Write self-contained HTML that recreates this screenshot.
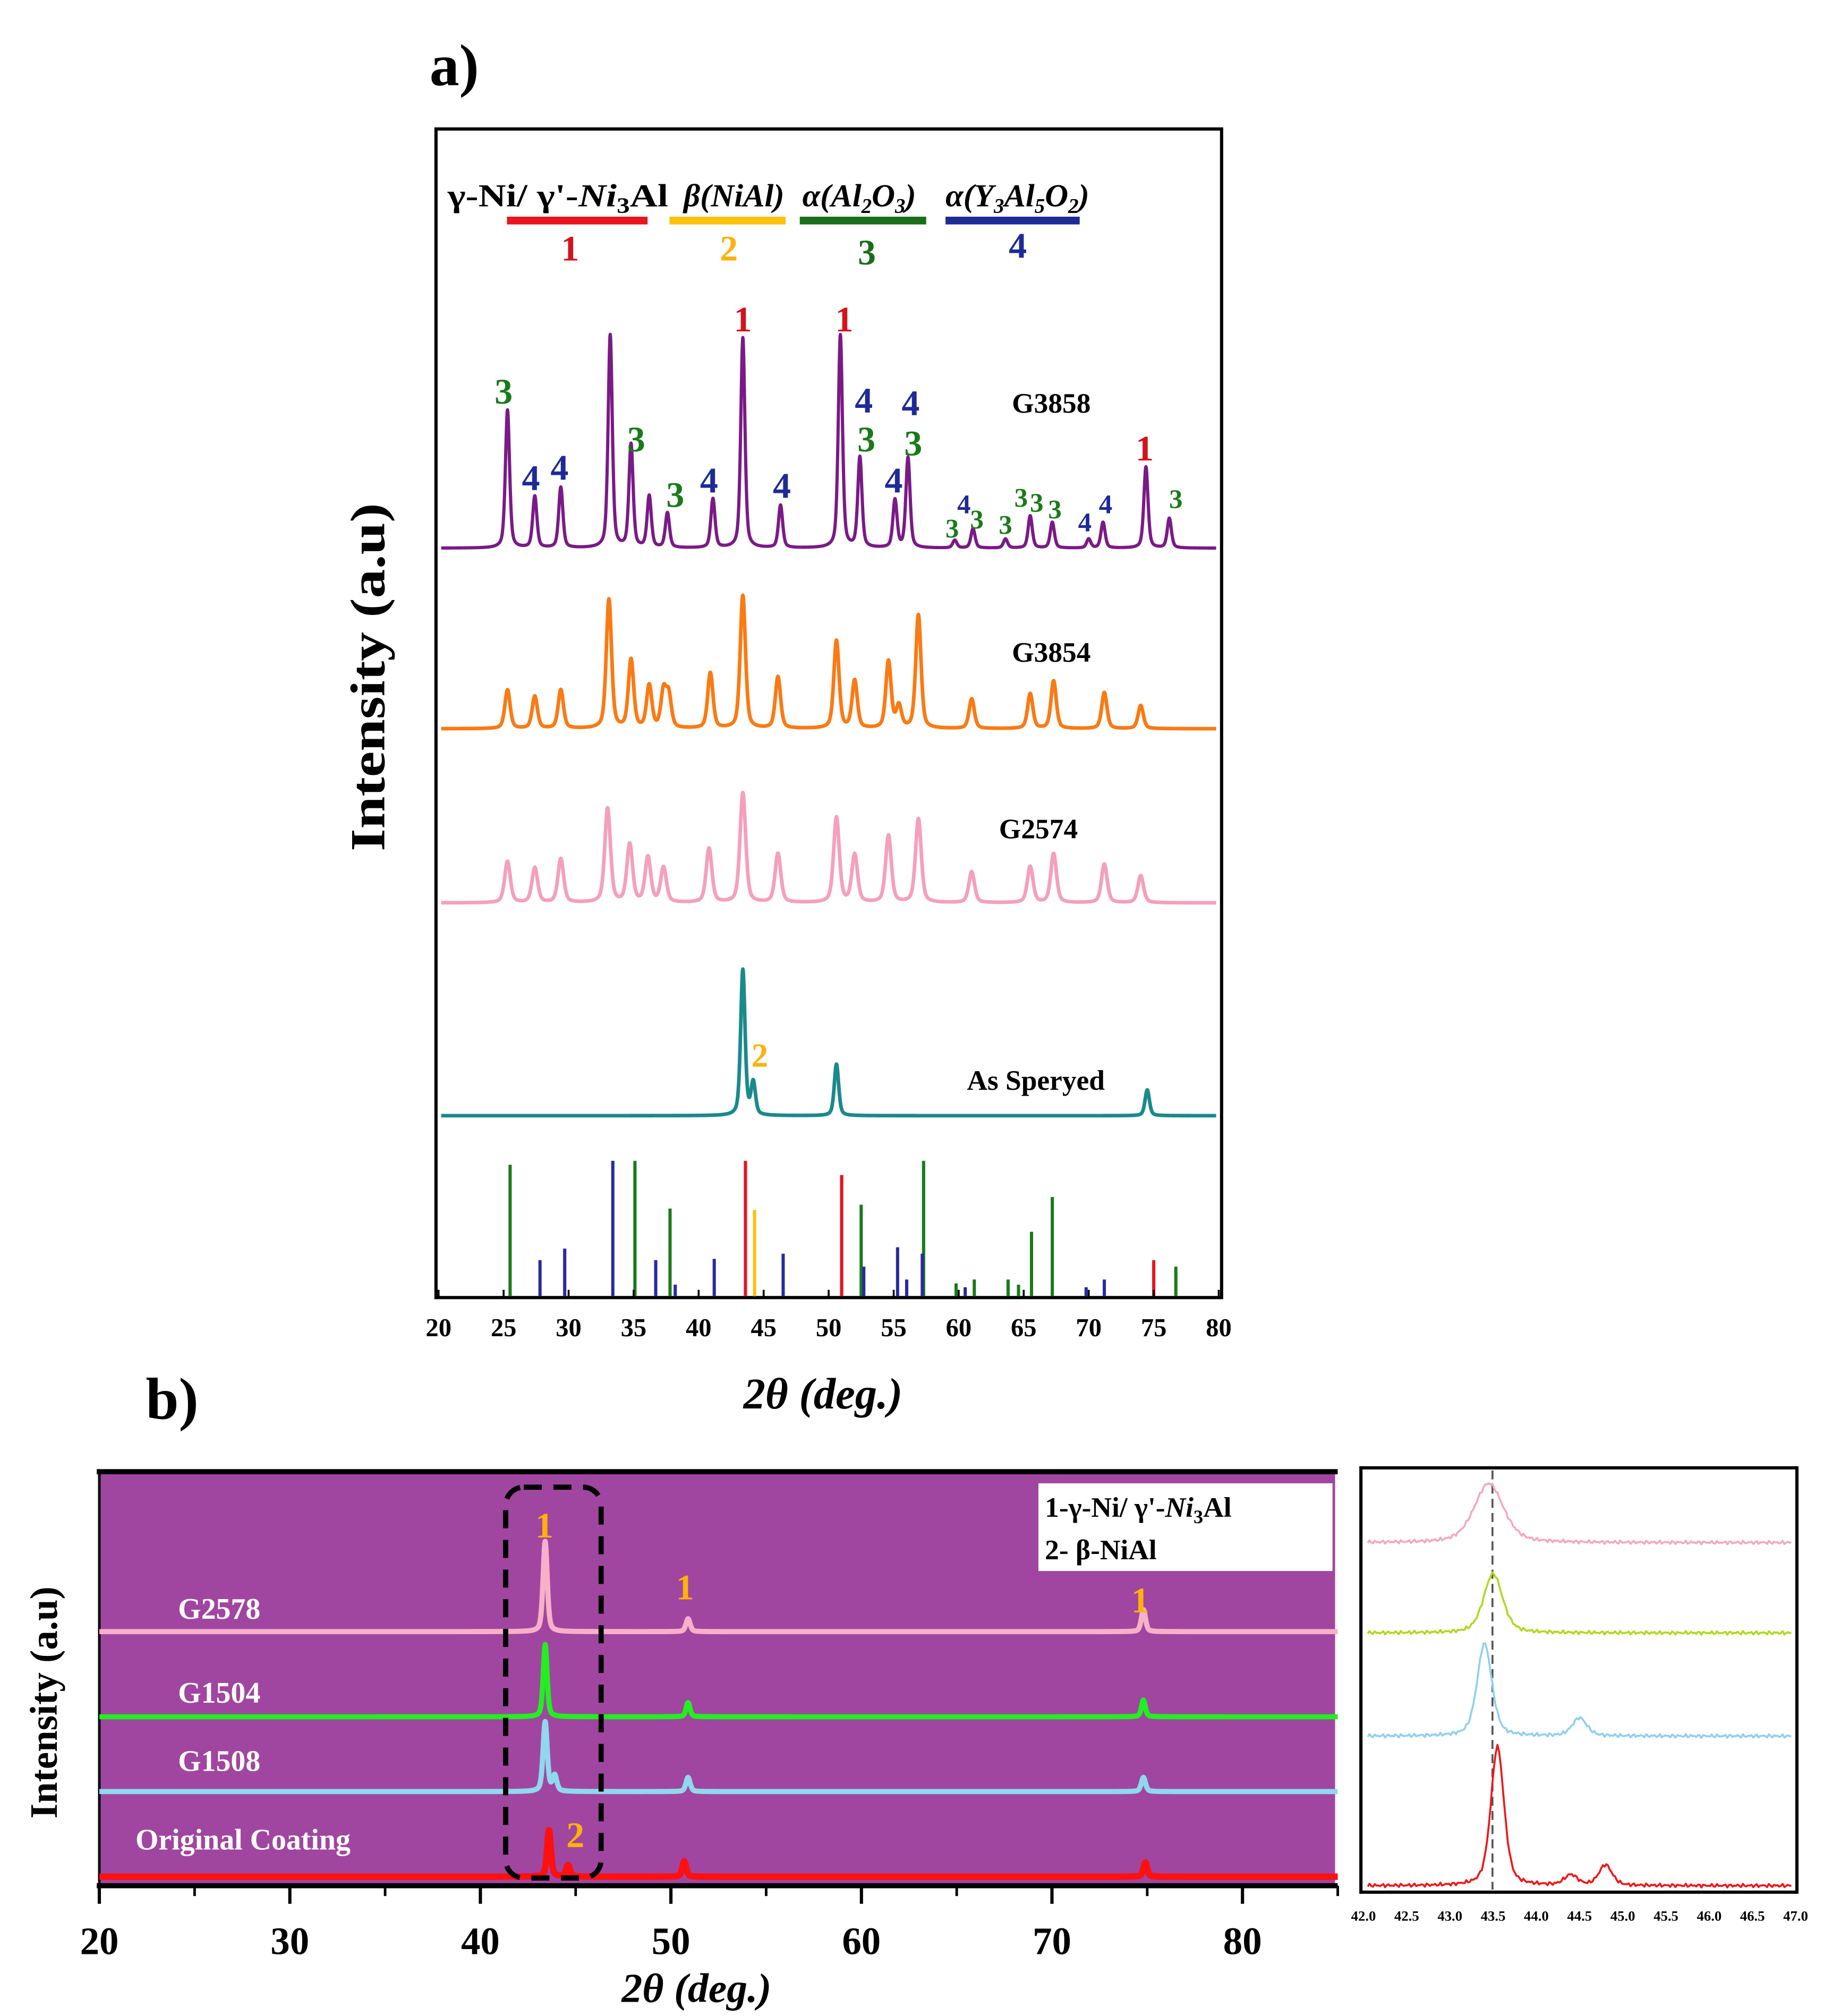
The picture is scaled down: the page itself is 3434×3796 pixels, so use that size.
<!DOCTYPE html>
<html><head><meta charset="utf-8"><style>
html,body{margin:0;padding:0;background:#fff}
svg{display:block}
text{font-family:"Liberation Serif",serif;font-weight:bold}
</style></head><body>
<svg id="fig" width="3434" height="3796" viewBox="0 0 1414 1563" preserveAspectRatio="none" xmlns="http://www.w3.org/2000/svg">
<g id="pa">
<text x="333" y="66" font-size="46">a)</text>
<rect x="338" y="100" width="609" height="906" fill="#fff" stroke="#000" stroke-width="2.5"/>
<g>
<text x="347" y="160" font-size="25" textLength="171" lengthAdjust="spacingAndGlyphs">γ-Ni/ γ'-<tspan font-style="italic">Ni</tspan><tspan font-size="17" dy="5">3</tspan><tspan dy="-5">Al</tspan></text>
<text x="530" y="160" font-size="25" font-style="italic" font-weight="normal" textLength="78" lengthAdjust="spacingAndGlyphs">β(NiAl)</text>
<text x="622" y="160" font-size="25" font-style="italic" font-weight="normal">α(Al<tspan font-size="16" dy="5">2</tspan><tspan dy="-5">O</tspan><tspan font-size="16" dy="5">3</tspan><tspan dy="-5">)</tspan></text>
<text x="733" y="160" font-size="25" font-style="italic" font-weight="normal">α(Y<tspan font-size="16" dy="5">3</tspan><tspan dy="-5">Al</tspan><tspan font-size="16" dy="5">5</tspan><tspan dy="-5">O</tspan><tspan font-size="16" dy="5">2</tspan><tspan dy="-5">)</tspan></text>
<rect x="393" y="168" width="109" height="6" fill="#e8141e"/>
<rect x="519" y="168" width="90" height="6" fill="#fcc10a"/>
<rect x="620" y="168" width="98" height="6" fill="#1a6e1a"/>
<rect x="733" y="168" width="104" height="6" fill="#1e2a96"/>
<text x="442" y="202" font-size="28" fill="#d0141e" text-anchor="middle">1</text>
<text x="565" y="202" font-size="28" fill="#fcb20a" text-anchor="middle">2</text>
<text x="672" y="205" font-size="28" fill="#1a6e1a" text-anchor="middle">3</text>
<text x="789" y="200" font-size="28" fill="#1e2a96" text-anchor="middle">4</text>
</g>
<g id="aTraces"></g>
<g id="aSticks"></g>
<g id="aLabels"></g>
<g id="aAxis"></g>
<text x="815" y="320" font-size="22" text-anchor="middle">G3858</text>
<text x="815" y="513" font-size="22" text-anchor="middle">G3854</text>
<text x="805" y="650" font-size="22" text-anchor="middle">G2574</text>
<text x="803" y="845" font-size="22" text-anchor="middle">As Speryed</text>
<text x="589" y="827" font-size="26" fill="#fcb20a" text-anchor="middle">2</text>
<text x="638" y="1092" font-size="34" text-anchor="middle"><tspan font-style="italic">2θ (deg.)</tspan></text>
<text transform="translate(298,525) rotate(-90)" font-size="38" text-anchor="middle" textLength="270" lengthAdjust="spacingAndGlyphs">Intensity (a.u)</text>
</g>
<g id="pb">
<text x="113" y="1100" font-size="46">b)</text>
<rect x="77" y="1140" width="958" height="322" fill="#a046a0"/>
<line x1="75" y1="1141" x2="1037" y2="1141" stroke="#000" stroke-width="4"/>
<line x1="75" y1="1462" x2="1037" y2="1462" stroke="#000" stroke-width="4"/>
<line x1="77" y1="1140" x2="77" y2="1462" stroke="#000" stroke-width="2"/>
<g id="bTraces"></g>
<rect x="392" y="1153" width="74" height="303" rx="14" fill="none" stroke="#000" stroke-width="4" stroke-dasharray="14,9"/>
<rect x="805" y="1150" width="228" height="68" fill="#fff"/>
<text x="810" y="1176" font-size="22">1-γ-Ni/ γ'-<tspan font-style="italic">Ni</tspan><tspan font-size="15" dy="5">3</tspan><tspan dy="-5">Al</tspan></text>
<text x="810" y="1209" font-size="22">2-  β-NiAl</text>
<text x="138" y="1255" font-size="23" fill="#fff">G2578</text>
<text x="138" y="1320" font-size="23" fill="#fff">G1504</text>
<text x="138" y="1373" font-size="23" fill="#fff">G1508</text>
<text x="105" y="1434" font-size="23" fill="#fff">Original Coating</text>
<text x="422" y="1192" font-size="28" fill="#fcb20a" text-anchor="middle">1</text>
<text x="531" y="1240" font-size="28" fill="#fcb20a" text-anchor="middle">1</text>
<text x="884" y="1250" font-size="28" fill="#fcb20a" text-anchor="middle">1</text>
<text x="446" y="1432" font-size="28" fill="#fcb20a" text-anchor="middle">2</text>
<g id="bAxis"></g>
<text x="540" y="1552" font-size="32" text-anchor="middle" font-style="italic">2θ (deg.)</text>
<text transform="translate(44,1320) rotate(-90)" font-size="30" text-anchor="middle">Intensity (a.u)</text>
<rect x="1055" y="1138" width="338" height="329" fill="#fff" stroke="#000" stroke-width="2.5"/>
<line x1="1157" y1="1140" x2="1157" y2="1465" stroke="#555" stroke-width="1.5" stroke-dasharray="7,4"/>
<g id="cTraces"></g>
<g id="cAxis"></g>
</g>
</svg>
<script>
const NS="http://www.w3.org/2000/svg";
function mk(tag,attrs,parent){const e=document.createElementNS(NS,tag);for(const k in attrs)e.setAttribute(k,attrs[k]);parent.appendChild(e);return e;}
// ---------- Panel a data ----------
const g3858Pos=[25.3,27.4,29.4,33.2,34.8,36.2,37.6,41.1,43.4,46.3,50.9,52.4,55.1,56.1,59.7,61.1,63.6,65.5,67.2,70.0,71.1,74.4,76.2];
const g3858Int=[107,40,47,165,80,40,27,38,163,33,165,70,37,70,6,15,7,25,20,7,20,63,23];
const g3854Pos=[25.3,27.4,29.4,33.1,34.8,36.2,37.3,37.7,40.9,43.4,46.1,50.6,52.0,54.6,55.4,56.9,61.0,65.5,67.3,71.2,74.0];
const g3854Int=[30,25,30,100,53,33,28,25,43,103,40,68,37,52,17,88,23,27,37,28,18];
const g2574Pos=[25.3,27.4,29.4,33.0,34.7,36.1,37.3,40.8,43.4,46.1,50.6,52.0,54.6,56.9,61.0,65.5,67.3,71.2,74.0];
const g2574Int=[32,27,34,73,45,35,27,42,85,38,66,37,52,65,24,28,38,30,21];
const sprayPos=[43.4,44.2,50.6,74.5];
const sprayInt=[113,25,40,20];
const stickPos=[25.5,27.8,29.7,33.4,35.1,36.7,37.8,38.2,41.2,43.6,44.3,46.5,51.0,52.5,52.7,55.3,56.0,57.3,57.2,59.8,60.5,61.2,63.8,64.6,65.6,67.2,69.8,71.2,75.0,76.7];
const stickInt=[102,28,37,105,105,28,68,9,29,105,67,33,94,71,23,38,13,105,33,10,7,13,13,9,50,77,7,13,28,23];
const stickPhase=[3,4,4,4,3,4,3,4,4,1,2,4,1,3,4,4,4,3,4,3,4,3,3,3,3,3,4,4,1,3];
const peakLblText=["3","4","4","3","3","4","1","4","1","4","3","4","3","4","3","4","3","3","3","3","3","4","4","1","3"];
const peakLblPos=[25.0,27.1,29.3,35.2,38.2,40.8,43.4,46.4,51.2,52.7,52.9,56.3,56.5,55.0,59.5,60.4,61.4,63.6,64.8,66.0,67.4,69.7,71.3,74.3,76.7];
const peakLblInt=[122,55,63,85,42,53,178,49,178,115,85,113,82,53,18,37,25,21,42,38,33,23,37,78,41];
const phaseColor={1:"#e8141e",2:"#fcc10a",3:"#1a7a1a",4:"#2a2aa0"};
const lblColor={"1":"#d0141e","3":"#1a7a1a","4":"#1e2a96"};
const xa=v=>340+(v-20)*10.08;
function profile(pos,ints,w,x){let s=0;for(let i=0;i<pos.length;i++){const d=(x-pos[i])/w;s+=ints[i]*(0.55*Math.exp(-d*d*0.693)+0.45/(1+d*d));}return s;}
function trace(parent,pos,ints,base,x0,x1,w,xf,color,sw,name,noise){
  let d="";for(let x=x0;x<=x1+1e-9;x+=0.02){const n=noise?noise*Math.sin(x*137.3)*Math.cos(x*53.1):0;const y=base-profile(pos,ints,w,x)+n;d+=(d?"L":"M")+xf(x).toFixed(2)+","+y.toFixed(2);}
  const p=mk("path",{d:d,fill:"none",stroke:color,"stroke-width":sw,"stroke-linejoin":"round"},parent);
  
  
}
const aT=document.getElementById("aTraces");
trace(aT,g3858Pos,g3858Int,425,20.2,79.8,0.19,xa,"#7a1a86",2.5,"trace-g3858");
trace(aT,g3854Pos,g3854Int,565,20.2,79.8,0.24,xa,"#fa7a14",2.8,"trace-g3854");
trace(aT,g2574Pos,g2574Int,700,20.2,79.8,0.26,xa,"#f4a0bc",2.8,"trace-g2574");
trace(aT,sprayPos,sprayInt,865,20.2,79.8,0.2,xa,"#1a8a8a",2.8,"trace-as-sprayed");
const aS=document.getElementById("aSticks");
for(let i=0;i<stickPos.length;i++){
  const l=mk("line",{x1:xa(stickPos[i]),x2:xa(stickPos[i]),y1:1005,y2:1005-stickInt[i],stroke:phaseColor[stickPhase[i]],"stroke-width":2.5},aS);
  
  
}
const aL=document.getElementById("aLabels");
for(let i=0;i<peakLblText.length;i++){
  const small=peakLblInt[i]<45&&i>13;
  const t=mk("text",{x:xa(peakLblPos[i]),y:425-peakLblInt[i]+10,"font-size":small?21:28,fill:lblColor[peakLblText[i]],"text-anchor":"middle"},aL);
  t.textContent=peakLblText[i];
  
  
}
const aA=document.getElementById("aAxis");
const aTicks=[20,25,30,35,40,45,50,55,60,65,70,75,80];
aTicks.forEach(v=>{
  mk("line",{x1:xa(v),x2:xa(v),y1:1006,y2:1000,stroke:"#000","stroke-width":1.5},aA);
  const t=mk("text",{x:xa(v),y:1036,"font-size":20,"text-anchor":"middle","font-weight":"normal"},aA);
  t.textContent=v;
  
  
});
// ---------- Panel b data ----------
const xb=v=>77+(v-20)*14.77;
const bPos=[43.4,50.9,74.8];
const g2578Int=[70,10,17];
const g1504Int=[56,11,13];
const g1508Pos=[43.4,43.9,50.9,74.8];
const g1508Int=[54,12,11,11];
const origPos=[43.6,44.6,50.7,74.9];
const origInt=[36,9,12,11];
const bT=document.getElementById("bTraces");
trace(bT,bPos,g2578Int,1265,20,85,0.13,xb,"#f7b0c8",4,"trace-g2578");
trace(bT,bPos,g1504Int,1331,20,85,0.12,xb,"#22ee22",4,"trace-g1504");
trace(bT,g1508Pos,g1508Int,1389,20,85,0.13,xb,"#90d8ec",4,"trace-g1508");
trace(bT,origPos,origInt,1455,20,85,0.12,xb,"#ff1010",5,"trace-original-coating");
const bA=document.getElementById("bAxis");
const bTicks=[20,30,40,50,60,70,80];
bTicks.forEach(v=>{
  mk("line",{x1:xb(v),x2:xb(v),y1:1462,y2:1476,stroke:"#000","stroke-width":2.5},bA);
  mk("line",{x1:xb(v+5),x2:xb(v+5),y1:1462,y2:1470,stroke:"#000","stroke-width":2},bA);
  const t=mk("text",{x:xb(v),y:1515,"font-size":30,"text-anchor":"middle"},bA);
  t.textContent=v;
  
  
});
// ---------- Inset ----------
const xc=v=>1057+(v-42)*67;
const cPinkPos=[43.45];const cPinkInt=[46];
const cGreenPos=[43.5];const cGreenInt=[46];
const cBluePos=[43.4,44.5];const cBlueInt=[72,14];
const cRedPos=[43.55,44.8,44.4];const cRedInt=[108,16,8];
const cT=document.getElementById("cTraces");
trace(cT,cPinkPos,cPinkInt,1196,42.05,46.95,0.2,xc,"#f4a8c0",1.5,"inset-trace-pink",1.5);
trace(cT,cGreenPos,cGreenInt,1266,42.05,46.95,0.13,xc,"#b0d820",1.5,"inset-trace-green",1.5);
trace(cT,cBluePos,cBlueInt,1346,42.05,46.95,0.1,xc,"#90d0ec",1.5,"inset-trace-blue",1.5);
trace(cT,cRedPos,cRedInt,1462,42.05,46.95,0.09,xc,"#ee1818",1.5,"inset-trace-red",1.5);
const cA=document.getElementById("cAxis");
const cTicks=["42.0","42.5","43.0","43.5","44.0","44.5","45.0","45.5","46.0","46.5","47.0"];
cTicks.forEach(s=>{
  const v=parseFloat(s);
  const t=mk("text",{x:xc(v),y:1489,"font-size":11,"text-anchor":"middle"},cA);
  t.textContent=s;
  
  
});
</script>
</body></html>
